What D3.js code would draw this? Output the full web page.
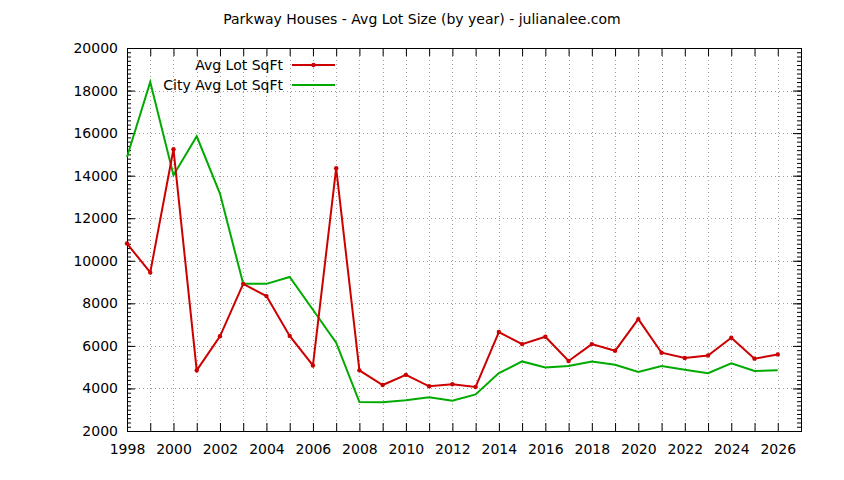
<!DOCTYPE html>
<html>
<head>
<meta charset="utf-8">
<style>
  html, body { margin: 0; padding: 0; background: #fff; }
  svg { display: block; }
  text { font-family: "DejaVu Sans", sans-serif; fill: #000; }
</style>
</head>
<body>
<div id="chart"></div>
<script src="https://cdn.jsdelivr.net/npm/d3@7"></script>
<script>
// data
const years = d3.range(1998, 2027);
const avgLot = [10810, 9450, 15240, 4850, 6450, 8915, 8340, 6470, 5080, 14350,
                4850, 4160, 4640, 4100, 4200, 4070, 6650, 6085, 6430, 5290,
                6085, 5770, 7260, 5680, 5430, 5550, 6380, 5400, 5600];
const cityAvgLot = [14880, 18400, 14020, 15850, 13160, 8915, 8915, 9240, 7700, 6150,
                    3360, 3350, 3440, 3580, 3420, 3720, 4720, 5270, 4990, 5050,
                    5270, 5110, 4770, 5050, 4880, 4720, 5180, 4820, 4850];
const yTicks = d3.range(2000, 20001, 2000);
const yMinor = d3.range(2000, 20001, 200);
const xTicks = d3.range(1998, 2028);

const width = 844, height = 480;
const m = { top: 48, right: 43, bottom: 49, left: 127 };

const svg = d3.select('#chart').append('svg')
    .attr('width', width)
    .attr('height', height);

const x = d3.scaleLinear().domain([1998, 2027]).range([m.left, width - m.right]);
const y = d3.scaleLinear().domain([2000, 20000]).range([height - m.bottom, m.top]);

// grid
const grid = svg.append('g')
    .attr('stroke', '#a0a0a0')
    .attr('stroke-width', 1)
    .attr('stroke-dasharray', '1,3');
grid.selectAll('line.v')
    .data(xTicks.filter(d => d > 1998 && d < 2027))
    .join('line')
    .attr('x1', d => Math.round(x(d)) + 0.5).attr('x2', d => Math.round(x(d)) + 0.5)
    .attr('y1', m.top).attr('y2', height - m.bottom);
grid.selectAll('line.h')
    .data(yTicks.filter(d => d > 2000 && d < 20000))
    .join('line')
    .attr('x1', m.left).attr('x2', width - m.right)
    .attr('y1', d => Math.round(y(d)) + 0.5).attr('y2', d => Math.round(y(d)) + 0.5);

// axes (ticks inward, mirrored)
const fmt = d => (d % 2 === 0 ? d : '');
svg.append('g')
    .attr('transform', `translate(0,${height - m.bottom})`)
    .call(d3.axisBottom(x).tickValues(xTicks).tickFormat(fmt).tickSizeInner(-8).tickSizeOuter(0).tickPadding(13))
    .call(g => g.select('.domain').remove());
svg.append('g')
    .attr('transform', `translate(0,${m.top})`)
    .call(d3.axisTop(x).tickValues(xTicks).tickFormat('').tickSizeInner(-8).tickSizeOuter(0))
    .call(g => g.select('.domain').remove());
svg.append('g')
    .attr('transform', `translate(${m.left},0)`)
    .call(d3.axisLeft(y).tickValues(yMinor).tickFormat('').tickSizeInner(-4).tickSizeOuter(0))
    .call(g => g.select('.domain').remove());
svg.append('g')
    .attr('transform', `translate(${m.left},0)`)
    .call(d3.axisLeft(y).tickValues(yTicks).tickFormat(d3.format('d')).tickSizeInner(-8).tickSizeOuter(0).tickPadding(9))
    .call(g => g.select('.domain').remove());
svg.append('g')
    .attr('transform', `translate(${width - m.right},0)`)
    .call(d3.axisRight(y).tickValues(yMinor).tickFormat('').tickSizeInner(-4).tickSizeOuter(0))
    .call(g => g.select('.domain').remove());
svg.append('g')
    .attr('transform', `translate(${width - m.right},0)`)
    .call(d3.axisRight(y).tickValues(yTicks).tickFormat('').tickSizeInner(-8).tickSizeOuter(0))
    .call(g => g.select('.domain').remove());
svg.selectAll('.tick text').style('font-size', '14px').style('font-family', '"DejaVu Sans", sans-serif');

// frame
svg.append('rect')
    .attr('x', m.left + 0.5).attr('y', m.top + 0.5)
    .attr('width', width - m.left - m.right).attr('height', height - m.top - m.bottom)
    .attr('fill', 'none').attr('stroke', '#000').attr('stroke-width', 1);

// lines
const line = d3.line().x((d, i) => x(years[i])).y(d => y(d));
svg.append('path')
    .datum(cityAvgLot)
    .attr('fill', 'none').attr('stroke', '#00aa00').attr('stroke-width', 2)
    .attr('d', line);
svg.append('path')
    .datum(avgLot)
    .attr('fill', 'none').attr('stroke', '#cc0000').attr('stroke-width', 2)
    .attr('d', line);
svg.append('g')
    .selectAll('circle')
    .data(avgLot)
    .join('circle')
    .attr('cx', (d, i) => x(years[i]))
    .attr('cy', d => y(d))
    .attr('r', 2.2)
    .attr('fill', '#cc0000');

// title
svg.append('text')
    .attr('x', 422).attr('y', 24)
    .attr('text-anchor', 'middle')
    .style('font-size', '14px')
    .text('Parkway Houses - Avg Lot Size (by year) - julianalee.com');

// legend
const legend = [
    { name: 'Avg Lot SqFt', color: '#cc0000', marker: true },
    { name: 'City Avg Lot SqFt', color: '#00aa00', marker: false }
];
const lg = svg.append('g');
legend.forEach((s, i) => {
    const ly = 65 + i * 20;
    lg.append('text')
        .attr('x', 283).attr('y', ly).attr('dy', '0.35em')
        .attr('text-anchor', 'end')
        .style('font-size', '14px')
        .text(s.name);
    lg.append('line')
        .attr('x1', 292).attr('x2', 335)
        .attr('y1', ly).attr('y2', ly)
        .attr('stroke', s.color).attr('stroke-width', 2);
    if (s.marker) {
        lg.append('circle')
            .attr('cx', 313.5).attr('cy', ly).attr('r', 2.2)
            .attr('fill', s.color);
    }
});
</script>
</body>
</html>
